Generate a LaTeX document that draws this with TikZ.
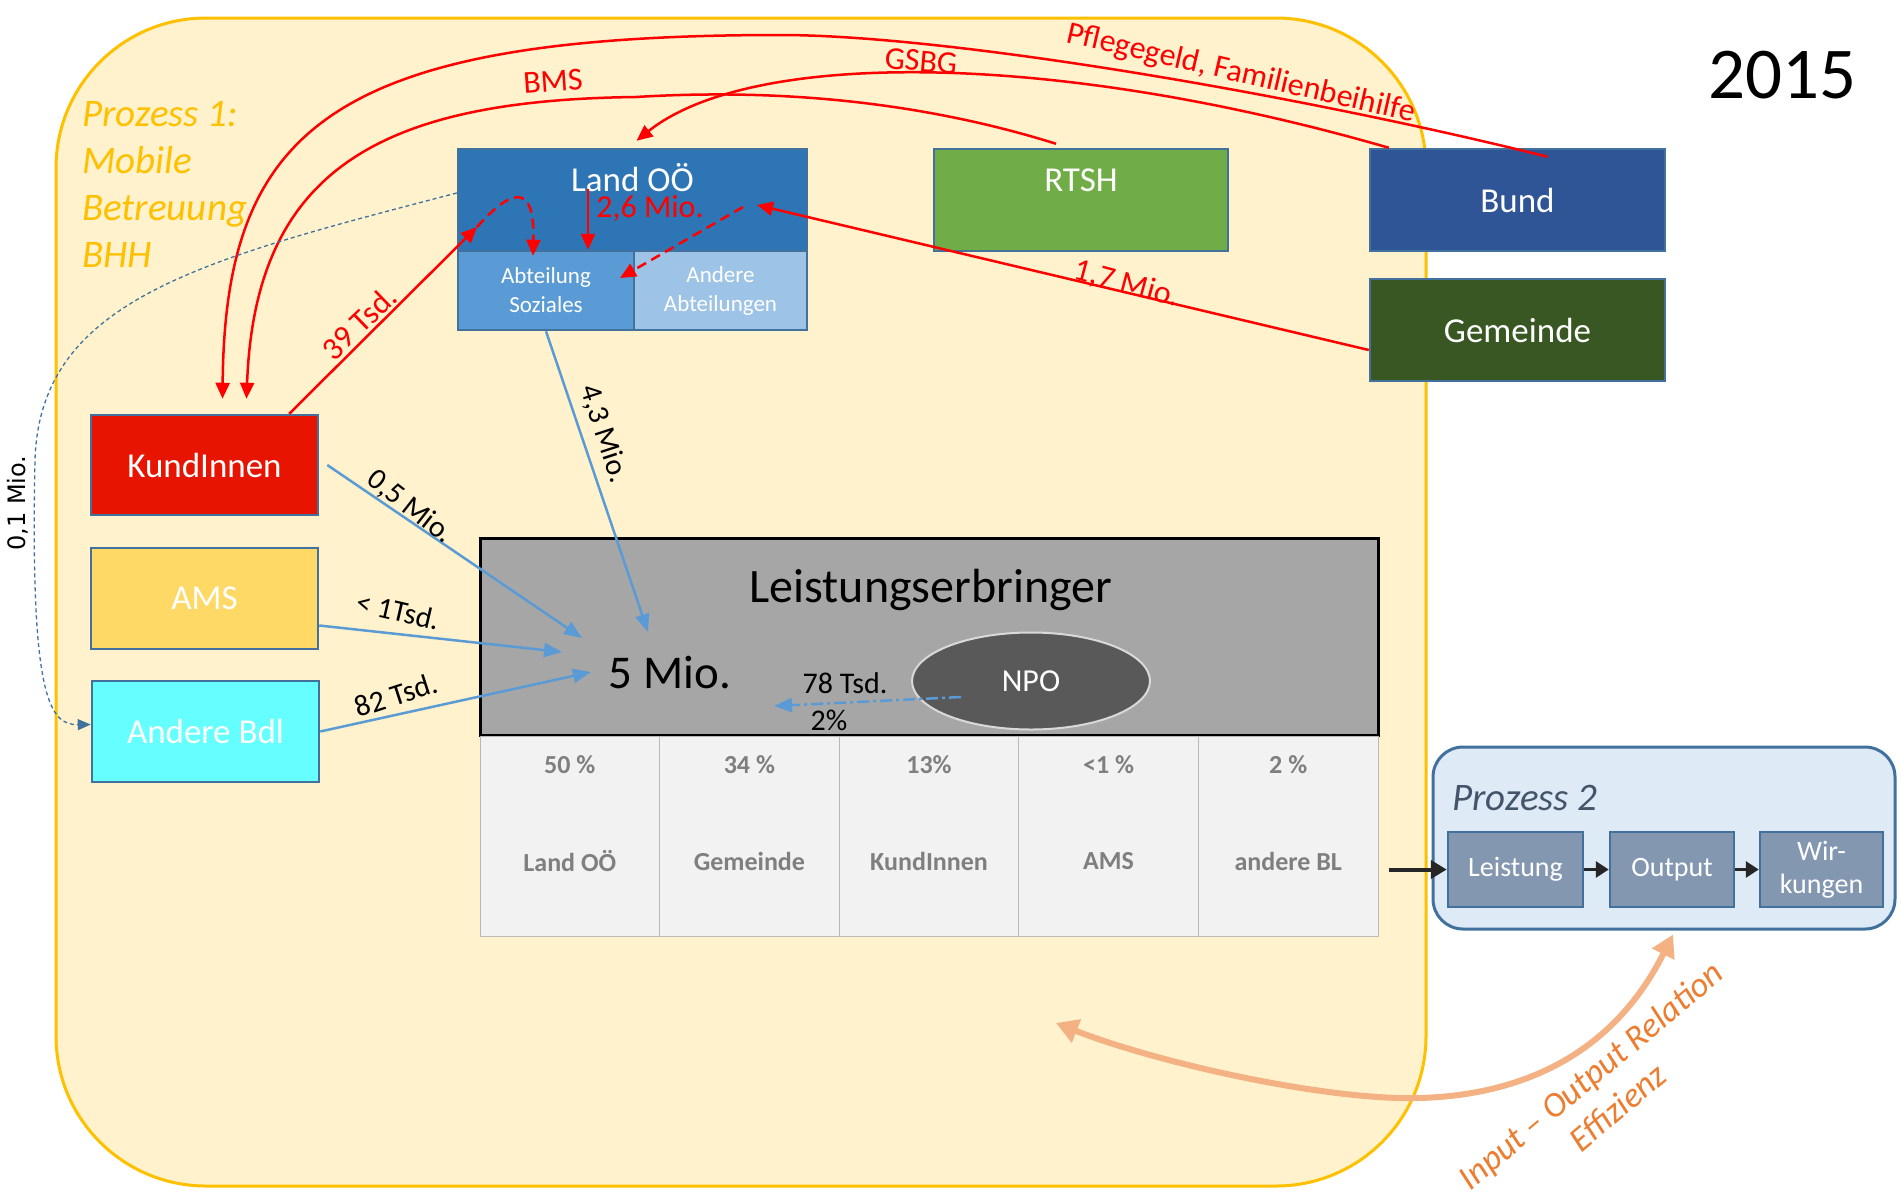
\documentclass[tikz,border=0pt]{standalone}
\usepackage{fontspec}
\setmainfont{Carlito}
\newfontfamily\dejavu{DejaVu Sans}
\usetikzlibrary{arrows.meta,shapes.geometric}

\definecolor{gelbfill}{HTML}{FFF2CC}
\definecolor{gelbrand}{HTML}{FFC000}
\definecolor{landblau}{HTML}{2E75B6}
\definecolor{abtblau}{HTML}{5B9BD5}
\definecolor{hellblau}{HTML}{9DC3E6}
\definecolor{randblau}{HTML}{41719C}
\definecolor{rtshgruen}{HTML}{70AD47}
\definecolor{bundblau}{HTML}{2F5597}
\definecolor{gemgruen}{HTML}{385723}
\definecolor{kundrot}{HTML}{E61400}
\definecolor{amsgelb}{HTML}{FFD966}
\definecolor{bdlcyan}{HTML}{66FFFF}
\definecolor{leistgrau}{HTML}{A6A6A6}
\definecolor{npograu}{HTML}{595959}
\definecolor{zellgrau}{HTML}{F2F2F2}
\definecolor{textgrau}{HTML}{7F7F7F}
\definecolor{prozblau}{HTML}{DEEBF7}
\definecolor{kastenblau}{HTML}{8497B0}
\definecolor{orangehell}{HTML}{F4B183}
\definecolor{orangetext}{HTML}{ED7D31}
\definecolor{dunkelgrau}{HTML}{44546A}
\definecolor{pfeilschwarz}{HTML}{262626}

\begin{document}
\begin{tikzpicture}[x=1pt,y=-1pt,
  akteur/.style={draw=randblau,line width=2.5pt,inner sep=0pt,text=white,
    font=\fontsize{35}{42}\selectfont},
  abteilung/.style={draw=randblau,line width=2.5pt,inner sep=0pt,text=white,align=center,
    minimum height=79pt,font=\fontsize{23}{29}\selectfont},
  weiss/.style={text=white,inner sep=0pt,font=\fontsize{35}{42}\selectfont},
  zelle/.style={draw=gray!55,line width=1pt,fill=zellgrau,minimum width=179.6pt,minimum height=200pt},
  zelltext/.style={text=textgrau,font=\bfseries\fontsize{26}{31}\selectfont},
  kasten/.style={draw=randblau,line width=2.5pt,fill=kastenblau,text=white,align=center,
    minimum height=75pt,inner sep=0pt,font=\fontsize{28}{33}\selectfont},
  rot/.style={draw=red,line width=2.5pt,-{Triangle[length=16pt,width=14pt]}},
  rotlbl/.style={text=red,inner sep=0pt,font=\fontsize{32}{38}\selectfont},
  geld/.style={draw=abtblau,line width=2.5pt,-{Triangle[length=18pt,width=14pt]}},
  geldlbl/.style={inner sep=0pt,font=\fontsize{30}{36}\selectfont},
  duenn/.style={draw=randblau,line width=1.3pt,dash pattern=on 4pt off 3pt,
    -{Triangle[length=13pt,width=11pt]}},
  schritt/.style={draw=pfeilschwarz,line width=4pt,-{Triangle[length=16pt,width=18pt]}}
]
\useasboundingbox (0,0) rectangle (1901,1200);

% Prozess 1
\draw[draw=gelbrand,fill=gelbfill,line width=3pt,rounded corners=150pt]
  (56,18) rectangle (1426,1186);
\node[anchor=north west,inner sep=0pt,align=left,text=gelbrand,
  font=\itshape\fontsize{39}{47}\selectfont]
  (p1) at (82,101) {Prozess 1:\\Mobile\\Betreuung\\BHH};

\node[inner sep=0pt,font=\fontsize{73}{80}\selectfont] (jahr) at (1782,75) {2015};

% Land OÖ
\node[akteur,fill=landblau,minimum width=349pt,minimum height=102pt] (land) at (632.5,200) {};
\node[weiss] (landtxt) at ([yshift=-30pt]land.north) {Land OÖ};
\node[abteilung,fill=abtblau,minimum width=176pt] (abtsoz) at (546,290.5) {Abteilung\\Soziales};
\node[abteilung,fill=hellblau,minimum width=173pt] (andere) at (720.5,290.5) {Andere\\Abteilungen};

% Geldgeber
\node[akteur,fill=rtshgruen,minimum width=294pt,minimum height=102pt] (rtsh) at (1081,200) {};
\node[weiss] (rtshtxt) at ([yshift=-33pt]rtsh.north) {RTSH};
\node[akteur,fill=bundblau,minimum width=295pt,minimum height=102pt] (bund) at (1517.5,200) {Bund};
\node[akteur,fill=gemgruen,minimum width=295pt,minimum height=102pt] (gemeinde) at (1517.5,330) {Gemeinde};

\node[akteur,fill=kundrot,minimum width=227pt,minimum height=100pt] (kund) at (204.5,465) {KundInnen};
\node[akteur,fill=amsgelb,minimum width=227pt,minimum height=101pt] (ams) at (204.5,598.5) {AMS};
\node[akteur,fill=bdlcyan,minimum width=227pt,minimum height=101pt] (bdl) at (205.5,731.5) {Andere Bdl};

% Leistungserbringer
\node[draw=black,line width=3pt,fill=leistgrau,minimum width=898pt,minimum height=197pt] (le) at (929,636.5) {};
\node[inner sep=0pt,font=\fontsize{48}{56}\selectfont] (letxt) at (931,590) {Leistungserbringer};
\node[inner sep=0pt,font=\fontsize{47}{56}\selectfont] (fuenf) at (670,673) {5 Mio.};
\node[ellipse,draw=gray!30,line width=2pt,fill=npograu,minimum width=238pt,minimum height=97pt,
  inner sep=0pt,text=white,font=\fontsize{32}{38}\selectfont] (npo) at (1031,681) {NPO};

\foreach \i/\anteil/\wer in {0/50 \%/Land OÖ,1/34 \%/Gemeinde,2/13\%/KundInnen,3/<1 \%/AMS,4/2 \%/andere BL}{
  \node[zelle] (c\i) at (569.8+\i*179.6,836) {};
  \node[zelltext] at (569.8+\i*179.6,765) {\anteil};
  \node[zelltext] at (569.8+\i*179.6,861) {\wer};
}

% Prozess 2
\node[draw=randblau,line width=3pt,fill=prozblau,rounded corners=30pt,
  minimum width=462pt,minimum height=182pt] (p2) at (1664,838) {};
\node[anchor=west,inner sep=0pt,text=dunkelgrau,font=\itshape\fontsize{39}{46}\selectfont]
  (p2txt) at (1452,798) {Prozess 2};
\node[kasten,minimum width=135pt] (leist) at (1515.5,869.5) {Leistung};
\node[kasten,minimum width=124pt] (output) at (1672,869.5) {Output};
\node[kasten,minimum width=123pt] (wirk) at (1821.5,869.5) {Wir-\\kungen};

\draw[schritt] ([xshift=10pt]c4.east |- leist.west) -- (leist.west);
\draw[schritt,line width=3pt,-{Triangle[length=13pt,width=16pt]}] (leist.east) -- (output.west);
\draw[schritt,line width=3pt,-{Triangle[length=13pt,width=16pt]}] (output.east) -- (wirk.west);

% rote Geldfluesse
\coordinate (k39) at (477,227);
\coordinate (landmitte) at (588,189);
\coordinate (landrechts) at (743,207);
\coordinate (abtrechts) at (620,278);
\coordinate (gemin) at (757,205);

\draw[rot] ([xshift=30pt,yshift=-9pt]bund.north)
  .. controls (1300,95) and (950,35) .. (780,35)
  .. controls (330,35) and (225,130) .. ([xshift=18pt,yshift=15pt]kund.north);
\draw[rot] ([xshift=20pt]bund.north west)
  .. controls (1050,50) and (750,50) .. ([xshift=4pt,yshift=7pt]land.north);
\draw[rot] ([xshift=-25pt,yshift=4pt]rtsh.north)
  .. controls (900,95) and (750,90) .. (636,97)
  .. controls (380,100) and (255,170) .. ([xshift=42pt,yshift=15pt]kund.north);
\draw[rot] ([yshift=-20pt]gemeinde.west) -- (gemin);
\draw[rot] ([xshift=-30pt]kund.north east) -- (k39);
\draw[rot,dash pattern=on 10pt off 6pt] (k39)
  .. controls (510,190) and (535,180) .. ([xshift=-13pt,yshift=-6pt]abtsoz.north);
\draw[rot] (landmitte) -- ([xshift=42pt]abtsoz.north);
\draw[rot,dash pattern=on 10pt off 6pt] (landrechts) -- (abtrechts);

\node[rotlbl,rotate=-13] at (1241,74) {Pflegegeld, Familienbeihilfe};
\node[rotlbl,rotate=-5] at (921,61) {GSBG};
\node[rotlbl,rotate=4] at (553,81) {BMS};
\node[rotlbl,rotate=-15] at (1127,284) {1,7 Mio.};
\node[rotlbl,rotate=44] at (359,323) {39 Tsd.};
\node[rotlbl] at (650,209) {2,6 Mio.};

% blaue Geldfluesse
\coordinate (inabt) at (648,632);
\coordinate (inkund) at (582,638);
\coordinate (inams) at (562,652);
\coordinate (inbdl) at (591,672);
\coordinate (npoziel) at (774,706);

\draw[geld] (abtsoz.south) -- (inabt);
\draw[geld] ([xshift=8pt]kund.east) -- (inkund);
\draw[geld] ([yshift=-27pt]ams.east) -- (inams);
\draw[geld] (bdl.east) -- (inbdl);
\draw[geld,dash pattern=on 12pt off 4pt on 3pt off 4pt] ([xshift=50pt,yshift=-16pt]npo.west) -- (npoziel);
\draw[duenn] ([yshift=7pt]land.west)
  .. controls (200,260) and (40,300) .. (35,460)
  .. controls (30,700) and (50,725) .. ([yshift=7pt]bdl.west);

\node[geldlbl,rotate=-72] at (604,434) {4,3 Mio.};
\node[geldlbl,rotate=-38] at (410,507) {0,5 Mio.};
\node[geldlbl,rotate=-13] at (398,611) {< 1Tsd.};
\node[geldlbl,rotate=18] at (396,695) {82 Tsd.};
\node[geldlbl] at (845,683) {78 Tsd.};
\node[geldlbl] at (829,720) {2\%};
\node[inner sep=0pt,rotate=90,font=\dejavu\fontsize{24}{29}\selectfont] at (18,503) {0,1 Mio.};

% Effizienz
\coordinate (effziel) at (1056,1023);
\draw[orangehell,line width=6pt,{Triangle[length=22pt,width=24pt]}-{Triangle[length=22pt,width=24pt]}]
  ([xshift=9pt,yshift=-4pt]p2.south)
  .. controls (1600,1080) and (1480,1100) .. (1398,1098)
  .. controls (1300,1095) and (1150,1060) .. (effziel);
\node[rotate=40,align=center,inner sep=0pt,text=orangetext,font=\itshape\fontsize{35}{42}\selectfont]
  at (1604,1091) {Input – Output Relation\\Effizienz};

\end{tikzpicture}
\end{document}
